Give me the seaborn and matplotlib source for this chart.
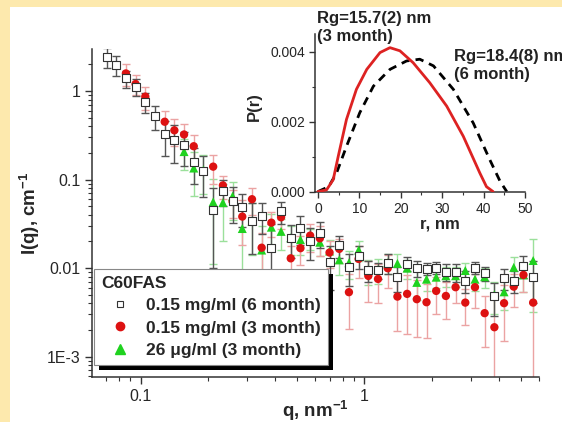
import numpy as np
import matplotlib
matplotlib.use('Agg')
import matplotlib.pyplot as plt
from matplotlib.lines import Line2D
from matplotlib.patches import Rectangle
from matplotlib.ticker import LogLocator, FixedLocator, FixedFormatter, NullFormatter, MultipleLocator, FuncFormatter
import seaborn as sns

nan = np.nan

# scattering vector, nm^-1
q = [0.0705, 0.0778, 0.0860, 0.0950, 0.1050, 0.1160, 0.1282, 0.1416, 0.1564, 0.1728,
     0.1910, 0.2110, 0.2332, 0.2576, 0.2846, 0.3145, 0.3474, 0.3838, 0.4241, 0.4685,
     0.5176, 0.5719, 0.6318, 0.6981, 0.7712, 0.8521, 0.9414, 1.040, 1.149, 1.270,
     1.403, 1.550, 1.712, 1.892, 2.090, 2.309, 2.551, 2.819, 3.114, 3.440,
     3.802, 4.200, 4.640, 5.127, 5.664]

# 0.15 mg/ml (6 month)
i_6m = [2.44, 1.97, 1.39, 1.12, 0.758, 0.522, 0.323, 0.283, 0.244, 0.158,
        0.124, 0.0450, 0.0750, 0.0573, 0.0492, 0.0345, 0.0392, 0.0168, 0.0438, 0.0220,
        0.0284, 0.0202, 0.0248, 0.0117, 0.0181, 0.0103, 0.0137, 0.00955, 0.00950, 0.0115,
        0.0079, 0.0112, 0.0100, 0.0099, 0.0101, 0.0091, 0.0090, 0.0072, 0.0101, 0.0087,
        0.00485, 0.0077, 0.0072, 0.0107, 0.0080]
err_6m = [0.6, 0.5, 0.3, 0.25, 0.2, 0.16, 0.14, 0.13, 0.1, 0.07,
          0.06, 0.035, 0.025, 0.025, 0.02, 0.02, 0.015, 0.015, 0.012, 0.009,
          0.01, 0.008, 0.008, 0.006, 0.005, 0.004, 0.004, 0.0025, 0.002, 0.003,
          0.0025, 0.002, 0.002, 0.0015, 0.0015, 0.002, 0.002, 0.002, 0.0015, 0.0015,
          0.002, 0.002, 0.002, 0.003, 0.004]

# 0.15 mg/ml (3 month)
i_3m = [nan, nan, 1.58, 1.20, 0.865, nan, 0.450, 0.360, 0.323, 0.238,
        nan, 0.140, 0.0860, 0.0565, 0.0382, 0.0600, 0.0170, 0.0326, 0.0375, 0.0129,
        0.0168, 0.0233, 0.0217, 0.0150, 0.0165, 0.00535, 0.0127, 0.00817, 0.00755, 0.00997,
        0.00477, 0.00512, 0.00446, 0.00412, 0.00553, 0.00485, 0.00609, 0.00408, 0.00609, 0.0031,
        0.00215, 0.00402, 0.00618, 0.00838, 0.00408]
err_3m = [nan, nan, 0.45, 0.3, 0.25, nan, 0.15, 0.12, 0.1, 0.08,
          nan, 0.05, 0.025, 0.02, 0.02, 0.02, 0.008, 0.01, 0.01, 0.005,
          0.006, 0.008, 0.008, 0.005, 0.005, 0.0033, 0.005, 0.004, 0.0035, 0.004,
          0.0028, 0.0033, 0.0028, 0.0025, 0.0025, 0.0022, 0.002, 0.0018, 0.0025, 0.0018,
          0.0027, 0.0025, 0.0025, 0.003, 0.0035]

# 26 ug/ml (3 month)
i_26 = [nan, nan, nan, nan, nan, nan, nan, nan, 0.207, 0.135,
        0.128, 0.056, 0.055, 0.065, 0.028, 0.034, 0.016, 0.029, 0.026, 0.022,
        0.021, 0.022, 0.0196, 0.0156, 0.0124, 0.0115, 0.0160, 0.0095, 0.0096, 0.0115,
        0.0113, 0.0100, 0.0069, 0.0075, 0.0079, 0.0082, 0.0082, 0.0094, 0.0075, 0.0080,
        0.0050, 0.0054, 0.0102, 0.0084, 0.0122]
err_26 = [nan, nan, nan, nan, nan, nan, nan, nan, 0.08, 0.07,
          0.06, 0.045, 0.035, 0.03, 0.02, 0.02, 0.014, 0.012, 0.01, 0.008,
          0.007, 0.006, 0.006, 0.005, 0.004, 0.004, 0.004, 0.003, 0.003, 0.003,
          0.003, 0.0025, 0.0025, 0.002, 0.002, 0.002, 0.002, 0.002, 0.002, 0.002,
          0.002, 0.002, 0.003, 0.003, 0.009]

# pair distance distributions (inset)
r_3m = [0, 2.1, 3.7, 4.9, 6.9, 9.3, 11.8, 15.0, 17.4, 19.8, 23.0, 27.0, 31.1, 35.1, 39.1, 40.7, 42.3]
p_3m = [0, 0.00005, 0.00034, 0.0010, 0.00206, 0.00292, 0.00349, 0.00397, 0.00411, 0.00402,
        0.00368, 0.00311, 0.00244, 0.00158, 0.00053, 0.00014, 0]
r_6m = [0, 2.6, 4.5, 6.9, 10.1, 13.4, 17.4, 21.4, 24.6, 27.9, 32.7, 37.5, 41.5, 44.0, 45.6]
p_6m = [0, 0.00014, 0.00053, 0.00129, 0.00225, 0.00301, 0.00349, 0.00373, 0.00378, 0.00359,
        0.00292, 0.00196, 0.00091, 0.00029, 0]

labels = ["0.15 mg/ml (6 month)", "0.15 mg/ml (3 month)", "26 \u03bcg/ml (3 month)"]

sns.set_style("ticks")
plt.rcParams['font.family'] = ['Liberation Sans', 'DejaVu Sans']
plt.rcParams['mathtext.fontset'] = 'custom'
plt.rcParams['mathtext.bf'] = 'Liberation Sans:bold'
plt.rcParams['mathtext.rm'] = 'Liberation Sans:bold'
plt.rcParams['mathtext.default'] = 'bf'

W, H = 562, 422
fig = plt.figure(figsize=(5.62, 4.22), dpi=100)
fig.patch.set_facecolor('#fde9ad')
fig.add_artist(Rectangle((10 / W, 0), 1 - 10 / W, 1 - 7 / H, transform=fig.transFigure,
                         facecolor='white', edgecolor='none', zorder=-1))

ax = fig.add_axes([92 / W, 1 - 376.7 / H, (539.4 - 92) / W, (376.7 - 49.3) / H])
ax.set_facecolor('none')
ax.set_xscale('log')
ax.set_yscale('log')

ax.errorbar(q, i_26, yerr=err_26, fmt='none', ecolor='#9be09b', elinewidth=1, capsize=3, capthick=1, zorder=2)
ax.errorbar(q, i_3m, yerr=err_3m, fmt='none', ecolor='#eba3a3', elinewidth=1, capsize=3, capthick=1, zorder=2)
ax.errorbar(q, i_6m, yerr=err_6m, fmt='none', ecolor='#555555', elinewidth=1, capsize=3, capthick=1, zorder=3)
sns.scatterplot(x=q, y=i_26, ax=ax, marker='^', s=42, color='#1fd21f', edgecolor='none', zorder=4)
sns.scatterplot(x=q, y=i_3m, ax=ax, marker='o', s=36, color='#dd1111', edgecolor='none', zorder=4)
sns.scatterplot(x=q, y=i_6m, ax=ax, marker='s', s=26, facecolor='white', edgecolor='#333333', linewidth=0.8, zorder=5)

ax.set_xlim(0.0607, 6.04)
ax.set_ylim(5.94e-4, 2.96)
for s in ['top', 'right']:
    ax.spines[s].set_visible(False)
for s in ['left', 'bottom']:
    ax.spines[s].set_color('#333333')
    ax.spines[s].set_linewidth(1.1)

ax.xaxis.set_major_locator(FixedLocator([0.1, 1]))
ax.xaxis.set_major_formatter(FixedFormatter(['0.1', '1']))
ax.xaxis.set_minor_locator(LogLocator(base=10, subs=np.arange(2, 10)))
ax.xaxis.set_minor_formatter(NullFormatter())
ax.yaxis.set_major_locator(FixedLocator([0.001, 0.01, 0.1, 1]))
ax.yaxis.set_major_formatter(FixedFormatter(['1E-3', '0.01', '0.1', '1']))
ax.yaxis.set_minor_locator(LogLocator(base=10, subs=np.arange(2, 10)))
ax.yaxis.set_minor_formatter(NullFormatter())
ax.tick_params(which='major', direction='out', length=5, width=1, color='#333333', labelsize=11.5, pad=3)
ax.tick_params(which='minor', direction='out', length=3, width=0.8, color='#333333')
ax.tick_params(axis='x', which='major', pad=4)

ax.set_xlabel(r"q, nm$^{-1}$", fontsize=13.5, fontweight='bold', labelpad=-4)
ax.set_ylabel(r"I(q), cm$^{-1}$", fontsize=13.5, fontweight='bold', labelpad=4)

handles = [
    Line2D([], [], linestyle='none', marker='s', markersize=5, markerfacecolor='white',
           markeredgecolor='#333333', markeredgewidth=0.8),
    Line2D([], [], linestyle='none', marker='o', markersize=6, color='#dd1111'),
    Line2D([], [], linestyle='none', marker='^', markersize=6.5, color='#1fd21f'),
]
leg = ax.legend(handles, labels, title='C60FAS', loc='lower left', bbox_to_anchor=(0.005, 0.036),
                borderaxespad=0, fancybox=False, framealpha=1, edgecolor='#888888',
                prop={'weight': 'bold', 'size': 12.5},
                title_fontproperties={'weight': 'bold', 'size': 12.5}, alignment='left',
                handlelength=2.2, handletextpad=0.4, labelspacing=0.42, borderpad=0.4)
leg.get_frame().set_linewidth(0.8)

# inset: P(r)
axi = fig.add_axes([315.4 / W, 1 - 192.3 / H, (525 - 315.4) / W, (192.3 - 34) / H])
axi.set_facecolor('none')
sns.lineplot(x=r_3m, y=p_3m, ax=axi, color='#dd2222', linewidth=2, zorder=3)
sns.lineplot(x=r_6m, y=p_6m, ax=axi, color='black', linewidth=2, linestyle=(0, (3, 2.2)), zorder=2)
axi.set_xlim(-0.6, 50)
axi.set_ylim(-0.00002, 0.0045)
for s in ['top', 'right']:
    axi.spines[s].set_visible(False)
for s in ['left', 'bottom']:
    axi.spines[s].set_color('#333333')
    axi.spines[s].set_linewidth(1.1)
axi.xaxis.set_major_locator(MultipleLocator(10))
axi.xaxis.set_minor_locator(MultipleLocator(5))
axi.yaxis.set_major_locator(MultipleLocator(0.002))
axi.yaxis.set_minor_locator(MultipleLocator(0.001))
axi.yaxis.set_major_formatter(FuncFormatter(lambda v, p: f"{v:.3f}"))
axi.tick_params(which='major', direction='out', length=4, width=1, color='#333333', labelsize=10, pad=3)
axi.tick_params(which='minor', direction='out', length=2.5, width=0.8, color='#333333')
axi.set_xlabel("r, nm", fontsize=12, fontweight='bold')
axi.set_ylabel("P(r)", fontsize=12, fontweight='bold')
axi.xaxis.set_label_coords(0.592, -0.15)
axi.yaxis.set_label_coords(-0.255, 0.54)

fig.text(317 / W, 1 - 11 / H, "Rg=15.7(2) nm\n(3 month)", fontsize=12, fontweight='bold',
         color='#222222', va='top', ha='left', linespacing=1.25)
fig.text(454 / W, 1 - 49 / H, "Rg=18.4(8) nm\n(6 month)", fontsize=12, fontweight='bold',
         color='#222222', va='top', ha='left', linespacing=1.25)

# black drop shadow behind the legend box
fig.canvas.draw()
bb = leg.get_frame().get_window_extent()
inv = ax.transAxes.inverted()
(x0, y0), (x1, y1) = inv.transform([[bb.x0 + 5, bb.y0 - 5], [bb.x1 + 5, bb.y1 - 5]])
ax.add_patch(Rectangle((x0, y0), x1 - x0, y1 - y0, transform=ax.transAxes, facecolor='black',
                       edgecolor='none', zorder=4.9, clip_on=False))

fig.savefig('out.png', dpi=100)
